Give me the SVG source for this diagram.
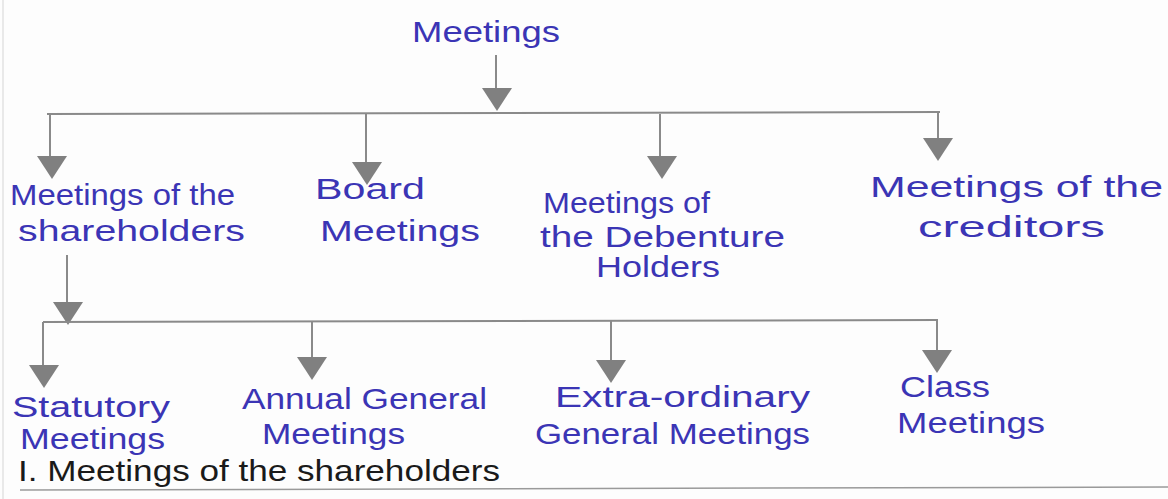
<svg xmlns="http://www.w3.org/2000/svg" width="1168" height="499" viewBox="0 0 1168 499">
<style>
.bg{fill:#fdfdfd}
.ln{stroke:#8a8a8a;stroke-width:2;fill:none}
.ah{fill:#808080}
.t{font-family:"Liberation Sans",Arial,sans-serif;font-size:29px;fill:#3b35b5}
.b{font-family:"Liberation Sans",Arial,sans-serif;font-size:29px;fill:#1a1a1a}
</style>
<defs>
<path id="arr" class="ah" d="M-15,0 L15,0 L0,23 Z"/>
</defs>
<rect class="bg" x="0" y="0" width="1168" height="499"/>
<line x1="3" y1="0" x2="3" y2="499" stroke="#e2e2e2" stroke-width="1.5"/>
<g id="connectors">
<line class="ln" x1="496" y1="55" x2="496" y2="92"/>
<use href="#arr" x="497" y="88"/>
<line class="ln" x1="47" y1="114" x2="940" y2="112"/>
<line class="ln" x1="50" y1="114" x2="50" y2="158"/>
<use href="#arr" x="52" y="156"/>
<line class="ln" x1="366" y1="114" x2="366" y2="164"/>
<use href="#arr" x="367" y="162"/>
<line class="ln" x1="660" y1="114" x2="660" y2="158"/>
<use href="#arr" x="662" y="156"/>
<line class="ln" x1="938" y1="112" x2="938" y2="140"/>
<use href="#arr" x="938" y="138"/>
<line class="ln" x1="67" y1="255" x2="67" y2="304"/>
<use href="#arr" x="68" y="302"/>
<line class="ln" x1="43" y1="322" x2="938" y2="320"/>
<line class="ln" x1="43" y1="322" x2="43" y2="367"/>
<use href="#arr" x="44" y="365"/>
<line class="ln" x1="312" y1="322" x2="312" y2="359"/>
<use href="#arr" x="312" y="357"/>
<line class="ln" x1="611" y1="321" x2="611" y2="362"/>
<use href="#arr" x="611" y="360"/>
<line class="ln" x1="937" y1="320" x2="937" y2="352"/>
<use href="#arr" x="937" y="350"/>
</g>
<g id="root"><text class="t" x="412" y="42" textLength="148" lengthAdjust="spacingAndGlyphs">Meetings</text></g>
<g id="shareholders"><text class="t" x="10" y="205" textLength="225" lengthAdjust="spacingAndGlyphs">Meetings of the</text><text class="t" x="18" y="241" textLength="227" lengthAdjust="spacingAndGlyphs">shareholders</text></g>
<g id="board"><text class="t" x="315" y="199" textLength="110" lengthAdjust="spacingAndGlyphs">Board</text><text class="t" x="320" y="241" textLength="160" lengthAdjust="spacingAndGlyphs">Meetings</text></g>
<g id="debenture"><text class="t" x="543" y="213" textLength="167" lengthAdjust="spacingAndGlyphs">Meetings of</text><text class="t" x="540" y="247" textLength="245" lengthAdjust="spacingAndGlyphs">the Debenture</text><text class="t" x="596" y="277" textLength="124" lengthAdjust="spacingAndGlyphs">Holders</text></g>
<g id="creditors"><text class="t" x="870" y="197" textLength="293" lengthAdjust="spacingAndGlyphs">Meetings of the</text><text class="t" x="918" y="237" textLength="187" lengthAdjust="spacingAndGlyphs">creditors</text></g>
<g id="statutory"><text class="t" x="12" y="417" textLength="158" lengthAdjust="spacingAndGlyphs">Statutory</text><text class="t" x="20" y="449" textLength="145" lengthAdjust="spacingAndGlyphs">Meetings</text></g>
<g id="agm"><text class="t" x="242" y="409" textLength="245" lengthAdjust="spacingAndGlyphs">Annual General</text><text class="t" x="262" y="444" textLength="143" lengthAdjust="spacingAndGlyphs">Meetings</text></g>
<g id="egm"><text class="t" x="555" y="407" textLength="255" lengthAdjust="spacingAndGlyphs">Extra-ordinary</text><text class="t" x="535" y="444" textLength="275" lengthAdjust="spacingAndGlyphs">General Meetings</text></g>
<g id="class"><text class="t" x="900" y="397" textLength="90" lengthAdjust="spacingAndGlyphs">Class</text><text class="t" x="897" y="433" textLength="148" lengthAdjust="spacingAndGlyphs">Meetings</text></g>
<g id="heading"><text class="b" x="18" y="481" textLength="482" lengthAdjust="spacingAndGlyphs">I. Meetings of the shareholders</text>
<line x1="20" y1="490" x2="1168" y2="487" stroke="#9a9a9a" stroke-width="1.5"/></g>
</svg>
